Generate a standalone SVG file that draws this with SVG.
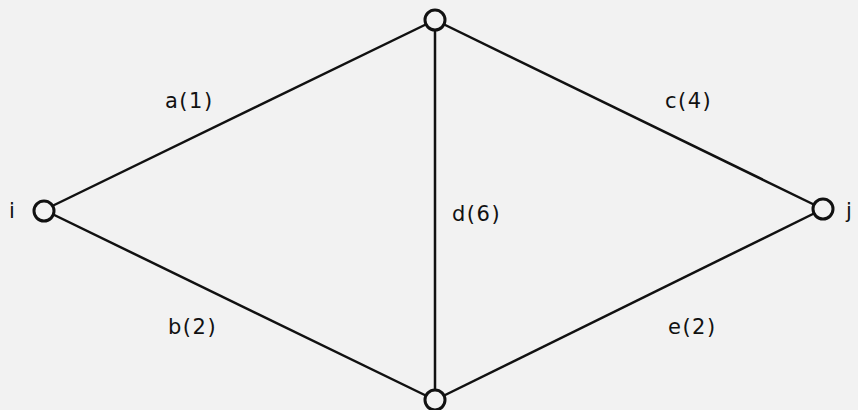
<svg xmlns="http://www.w3.org/2000/svg" width="858" height="410" viewBox="0 0 858 410">
<style>
.e{stroke:#111;stroke-width:2.5;fill:none}
.n{stroke:#111;stroke-width:3;fill:#f2f2f2}
text{font-family:"DejaVu Sans","Liberation Sans",sans-serif;font-size:21px;letter-spacing:1.5px;fill:#111}
</style>
<rect width="858" height="410" fill="#f2f2f2"/>
<g id="connectors">
<line class="e" x1="44" y1="210" x2="435" y2="20"/>
<line class="e" x1="44" y1="210" x2="435" y2="400"/>
<line class="e" x1="435" y1="20" x2="435" y2="400"/>
<line class="e" x1="435" y1="20" x2="823" y2="209"/>
<line class="e" x1="435" y1="400" x2="823" y2="209"/>
</g>
<g id="labels">
<text x="165" y="108">a(1)</text>
<text x="665" y="108">c(4)</text>
<text x="452" y="221">d(6)</text>
<text x="168" y="334">b(2)</text>
<text x="668" y="334">e(2)</text>
</g>
<g id="node-top"><circle class="n" cx="435" cy="20" r="10"/></g>
<g id="node-i"><circle class="n" cx="44" cy="211" r="10"/><text x="9" y="218">i</text></g>
<g id="node-j"><circle class="n" cx="823" cy="209" r="10"/><text x="846" y="218">j</text></g>
<g id="node-bottom"><circle class="n" cx="435" cy="400" r="10"/></g>
</svg>
